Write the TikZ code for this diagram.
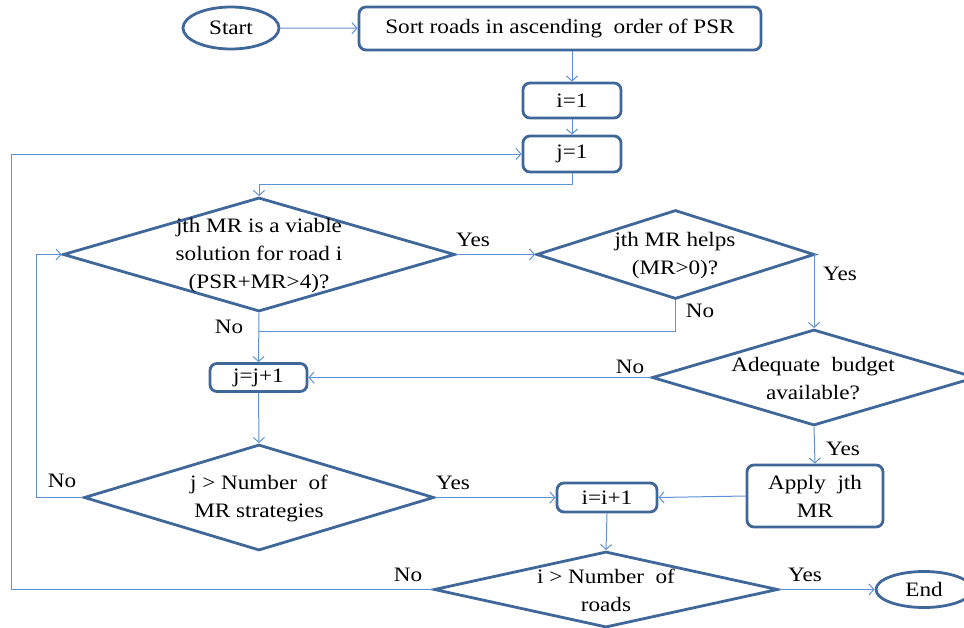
\documentclass[tikz,border=0pt]{standalone}
\usepackage{fontspec}
\setmainfont{Liberation Serif}[FakeStretch=1.13]
\usetikzlibrary{shapes.geometric,arrows.meta}
\definecolor{bord}{RGB}{63,103,154}
\definecolor{conn}{RGB}{95,145,212}
\tikzset{
  x=1pt, y=-1pt,
  every node/.style={font=\fontsize{20.5}{28}\selectfont, inner sep=0pt},
  procbox/.style={draw=bord, line width=2.8pt, rounded corners=7pt, align=center},
  term/.style={draw=bord, line width=2.8pt, ellipse},
  decis/.style={draw=bord, line width=2.8pt, diamond},
  dtext/.style={align=center},
  conline/.style={draw=conn, line width=1pt},
  arr/.style={conline, -{Straight Barb[length=5pt,width=11pt]}},
  lbl/.style={}
}
\begin{document}
\begin{tikzpicture}
\useasboundingbox (0,0) rectangle (964,627);
% terminals
\node[term, minimum width=96pt, minimum height=42pt] (start) at (231,28) {Start};
\node[term, minimum width=96pt, minimum height=36pt] (end) at (924,589.5) {End};
% boxes
\node[procbox, minimum width=402pt, minimum height=43pt] (sort) at (560,28.5) {Sort roads\ in\ ascending\ \ order of PSR};
\node[procbox, minimum width=98pt, minimum height=35pt] (i1) at (572,100.5) {i=1};
\node[procbox, minimum width=98pt, minimum height=36pt] (j1) at (572,154) {j=1};
\node[procbox, minimum width=97pt, minimum height=28pt] (j2) at (258.5,377.5) {j=j+1};
\node[procbox, minimum width=100pt, minimum height=29pt] (i2) at (607,497.5) {i=i+1};
\node[procbox, minimum width=136pt, minimum height=62pt] (apply) at (815,496) {Apply\ \ jth\\MR};
% decisions
\node[decis, minimum width=392pt, minimum height=114pt] (d1) at (259,254.5) {};
\node[dtext] (d1t) at (259,255.5) {jth MR is a viable\\solution for road i\\(PSR+MR>4)?};
\node[decis, minimum width=278pt, minimum height=89pt] (d2) at (675.5,254.5) {};
\node[dtext] (d2t) at (675,255.5) {jth MR helps\\(MR>0)?};
\node[decis, minimum width=324pt, minimum height=96pt] (d3) at (814,377.5) {};
\node[dtext] (d3t) at (813,379) {Adequate\ \ budget\\available?};
\node[decis, minimum width=350pt, minimum height=106pt] (d5) at (259,497.5) {};
\node[dtext] (d5t) at (259,498) {j > Number\ \ of\\MR strategies};
\node[decis, minimum width=344pt, minimum height=76pt] (d4) at (606,589.5) {};
\node[dtext] (d4t) at (606,590) {i > Number\ \ of\\roads};
% helper coordinates
\coordinate (c1) at (259,184);
\coordinate (m) at (259,331);
\coordinate (lj) at (36,497.5);
\coordinate (li) at (11,589.5);
% connectors
\draw[arr] (start) -- (sort);
\draw[arr] (i1.north |- sort.south) -- (i1.north);
\draw[arr] (i1) -- (j1);
\draw[arr] (j1.south) |- (c1) -- (d1.north);
\draw[arr] (d1.east) -- (d2.west);
\draw[arr] (d2.east) -| (d3.north);
\draw[conline] (d2.south) |- (m);
\draw[arr] (d1.south) -- (j2.north);
\draw[arr] (d3.west) -- (j2.east);
\draw[arr] (d3.south) -- (apply.north);
\draw[arr] (apply.west) -- (i2.east);
\draw[arr] (j2.south) -- (d5.north);
\draw[arr] (d5.east) -- (i2.west);
\draw[arr] (d5.west) -- (lj) |- (d1.west);
\draw[arr] (i2.south) -- (d4.north);
\draw[arr] (d4.east) -- (end.west);
\draw[arr] (d4.west) -- (li) |- (j1.west);
% labels
\node[lbl] (y1) at (473,240) {Yes};
\node[lbl] (y2) at (840,274) {Yes};
\node[lbl] (n1) at (229,327) {No};
\node[lbl] (n2) at (700,311) {No};
\node[lbl] (n3) at (630,367) {No};
\node[lbl] (y3) at (843,449) {Yes};
\node[lbl] (n5) at (62,481) {No};
\node[lbl] (y5) at (453,483) {Yes};
\node[lbl] (n4) at (408,575) {No};
\node[lbl] (y4) at (805,575) {Yes};
\end{tikzpicture}
\end{document}
